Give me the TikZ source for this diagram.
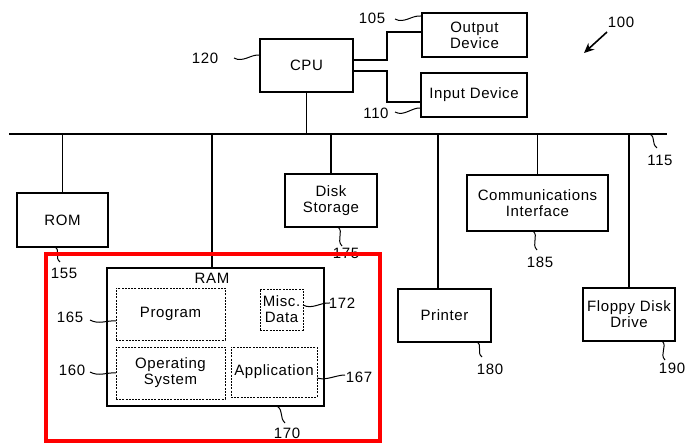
\documentclass[tikz,border=0pt]{standalone}
\usepackage{fontspec}
\setmainfont[LetterSpace=4]{Liberation Sans}
\usetikzlibrary{arrows.meta}
\begin{document}
\begin{tikzpicture}[x=1pt,y=-1pt,
  txt/.style={font=\fontsize{15}{16}\selectfont},
  box/.style={txt, draw, line width=1.2pt, align=center, inner sep=1pt},
  dbox/.style={txt, draw, line width=0.9pt, dash pattern=on 2pt off 1.2pt, align=center, inner sep=1pt},
  lbl/.style={txt, inner sep=0pt},
  wire/.style={line width=1.2pt},
  lead/.style={line width=1pt},
  hl/.style={draw=red, line width=4.5pt}]
\useasboundingbox (0,0) rectangle (685,443);

% boxes
\node[box, minimum width=93pt, minimum height=53pt] (cpu) at (306.5,65.5) {CPU};
\node[box, minimum width=105pt, minimum height=44pt] (out) at (474.5,35) {Output\\Device};
\node[box, minimum width=106pt, minimum height=44pt] (in) at (474,95) {Input Device};
\node[box, minimum width=91pt, minimum height=54pt] (rom) at (62.5,220) {ROM};
\node[box, minimum width=92pt, minimum height=53pt] (disk) at (331,200.5) {Disk\\Storage};
\node[box, minimum width=141pt, minimum height=56pt] (comm) at (537.5,203) {Communications\\Interface};
\node[box, minimum width=93pt, minimum height=53pt] (prn) at (444.5,315.5) {Printer};
\node[box, minimum width=92pt, minimum height=53pt] (fdd) at (629,314.5) {Floppy Disk\\Drive};
\node[box, minimum width=217pt, minimum height=138pt] (ram) at (215.5,337) {};
\node[lbl] (ramlbl) at (212,278) {RAM};
\node[dbox, minimum width=109pt, minimum height=52pt] (prog) at (170.5,314) {Program};
\node[dbox, minimum width=43pt, minimum height=41pt] (misc) at (281.5,309.5) {Misc.\\Data};
\node[dbox, minimum width=109pt, minimum height=52pt] (os) at (170.5,373) {Operating\\System};
\node[dbox, minimum width=86pt, minimum height=50pt] (app) at (274,372) {Application};

% bus
\coordinate (busL) at (9,134);
\coordinate (busR) at (667,134);
\draw[wire] (busL) -- (busR);
\coordinate (tRAM) at (212,134);
\coordinate (tPRN) at (438,134);
\draw[wire] (cpu.south) -- (cpu.south |- busL);
\draw[wire] (rom.north |- busL) -- (rom.north);
\draw[wire] (tRAM) -- (tRAM |- ram.north);
\draw[wire] (disk.north |- busL) -- (disk.north);
\draw[wire] (tPRN) -- (tPRN |- prn.north);
\draw[wire] (comm.north |- busL) -- (comm.north);
\draw[wire] (fdd.north |- busL) -- (fdd.north);

% CPU to output / input
\coordinate (j1) at (387,32);
\coordinate (j2) at (387,102);
\draw[wire] ([yshift=5.5pt]cpu.east) -| (j1) -- (j1 -| out.west);
\draw[wire] ([yshift=-5.5pt]cpu.east) -| (j2) -- (j2 -| in.west);

% system arrow
\node[lbl] (n100) at (621,22) {100};
\coordinate (a100s) at (607,32);
\coordinate (a100e) at (584,53);
\draw[line width=1.6pt, -{Stealth[length=10pt,width=9pt]}] (a100s) -- (a100e);

% reference labels and leaders
\node[lbl] (n105) at (372,18) {105};
\draw[lead] (395,19) .. controls +(9,5) and +(-9,-1) .. (421,16);
\node[lbl] (n120) at (205,58) {120};
\draw[lead] (234,58) .. controls +(9,5) and +(-9,-1) .. (260,55);
\node[lbl] (n110) at (376,113) {110};
\draw[lead] (395,112) .. controls +(9,5) and +(-9,-1) .. (421,108);
\node[lbl] (n115) at (660,160) {115};
\draw[lead] (650,134) .. controls +(6,4) and +(-6,-5) .. (657,148);
\node[lbl] (n155) at (64,273) {155};
\draw[lead] (55,247) .. controls +(6,4) and +(-6,-5) .. (60,262);
\node[lbl] (n175) at (346,253.5) {175};
\draw[lead] (338,227) .. controls +(6,5) and +(-6,-6) .. (342,246);
\node[lbl] (n185) at (540,262) {185};
\draw[lead] (533,231) .. controls +(6,5) and +(-6,-6) .. (537,250);
\node[lbl] (n180) at (490,369) {180};
\draw[lead] (477,342) .. controls +(6,4) and +(-6,-5) .. (482,357);
\node[lbl] (n190) at (672,368) {190};
\draw[lead] (662,341) .. controls +(6,5) and +(-6,-6) .. (665,360);
\node[lbl] (n165) at (70,317) {165};
\draw[lead] (90,320) .. controls +(9,5) and +(-9,-1) .. (116,321);
\node[lbl] (n160) at (72,370) {160};
\draw[lead] (90,372) .. controls +(9,5) and +(-9,-1) .. (116,373);
\node[lbl] (n172) at (342,303) {172};
\draw[lead] (303,305) .. controls +(9,5) and +(-9,-1) .. (330,303);
\node[lbl] (n167) at (359,377) {167};
\draw[lead] (317,378) .. controls +(9,3) and +(-9,0) .. (345,375);
\node[lbl] (n170) at (287,433) {170};
\draw[lead] (277,406) .. controls +(7,5) and +(-6,-6) .. (285,423);

% highlight
\draw[hl] (46,254) rectangle (380,441);
\end{tikzpicture}
\end{document}
